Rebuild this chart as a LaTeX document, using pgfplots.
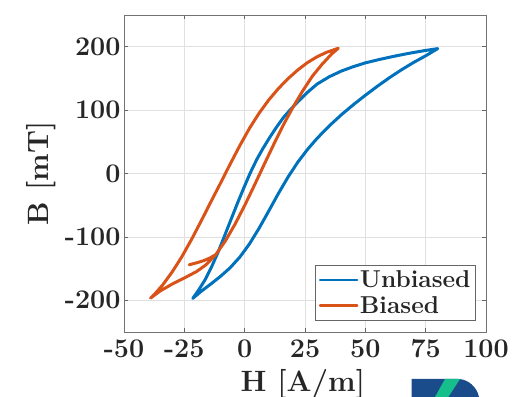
\documentclass[border=0pt]{standalone}
\usepackage{pgfplots}
\pgfplotsset{compat=1.18}
\definecolor{mblue}{rgb}{0,0.447,0.741}
\definecolor{morange}{rgb}{0.85,0.325,0.098}
\definecolor{logoblue}{RGB}{26,76,140}
\definecolor{logogreen}{RGB}{22,190,140}
\begin{document}
\begin{tikzpicture}
\useasboundingbox (0,0) rectangle (515bp,397bp);
\clip (0,0) rectangle (515bp,397bp);
\begin{axis}[
  at={(124bp,65bp)}, anchor=south west,
  scale only axis, width=362bp, height=317bp,
  xmin=-50, xmax=100, ymin=-250, ymax=250,
  xtick={-50,-25,0,25,50,75,100},
  xticklabels={-50,-25,0,25,50,75,100},
  ytick={-200,-100,0,100,200},
  yticklabels={-200,-100,0,100,200},
  tick align=inside, major tick length=4bp,
  tick style={black!60, line width=0.5bp},
  axis line style={black!55, line width=0.7bp},
  grid=major,
  major grid style={black!12, line width=0.5bp},
  ticklabel style={font=\fontsize{27}{30}\selectfont\bfseries, text=black!85},
  xticklabel style={yshift=-4bp},
  xlabel={H [A/m]}, ylabel={B [mT]},
  label style={font=\fontsize{29.5}{33}\selectfont\bfseries, text=black!85},
  xlabel style={at={(axis description cs:0.494,-0.189)}, anchor=base},
  ylabel style={at={(axis description cs:-0.229,0.5)}, anchor=center},
  legend style={at={(0.9715,0.0347)}, anchor=south east,
    font=\fontsize{24.5}{26}\selectfont\bfseries,
    draw=black!60, line width=0.6bp, inner xsep=3.5bp, inner ysep=4.5bp,
    row sep=4bp,
    nodes={inner sep=1.5bp, text=black!85}},
  legend cell align=left,
  legend image code/.code={\draw[#1, line width=2.6bp] (0bp,0bp) -- (37bp,0bp);},
  every axis plot/.append style={line width=3bp, line join=round, line cap=round},
]
\addplot[mblue] coordinates {
(-21.5,-197) (-18,-185.8) (-14,-174.2) (-10,-162.2) (-6,-148.6) (-2,-131.8)
(2,-111) (6,-86.2) (10,-59) (14,-31.4) (18,-5.4) (22,17.8) (26,37.8)
(30,55.4) (35,74.9) (40,92.4) (45,108.4) (50,123.4) (55,137.65) (60,151.15)
(65,163.65) (70,175.15) (75,185.65) (80,197)
(74,193.5) (68,189.5) (62,185) (56,180) (50,174.5) (45,168.5) (40,161.5)
(35,152.5) (30,141) (26,128) (22,113) (19,101) (16,88) (13,72) (10.4,57)
(7.5,39) (5,22) (2.2,0) (-0.5,-24) (-3,-47) (-5.5,-71) (-8.3,-98)
(-11,-124) (-13.8,-148) (-16.3,-167) (-18.6,-181) (-20.2,-190) (-21.5,-197)
};
\addlegendentry{Unbiased}
\addplot[morange] coordinates {
(-23,-144) (-20,-141) (-17,-137.5) (-14.5,-133.5) (-12,-128)
(-8,-106.4) (-4,-80) (0,-50.4) (4,-18.8) (8,13.6) (12,45.6) (16,76.4)
(20,104.4) (24,130) (28,153.2) (32,172) (36,188.4) (38.8,197.5)
(34,191.3) (30,184.1) (26,174.9) (22,163.3) (18,149.7) (14,134.1)
(10,116.1) (6,95.3) (2,71.3) (-2,44.1) (-6,14.9) (-10,-15.1) (-14,-44.7)
(-18,-74.7) (-22,-103.9) (-26,-131.1) (-30,-155.1) (-34,-175.9) (-37,-189)
(-39,-196.5)
(-35,-185.3) (-30,-174.3) (-25,-164.8) (-20,-154.8) (-16,-144) (-12,-128)
};
\addlegendentry{Biased}
\end{axis}
% logo fragment at bottom right
\fill[logoblue] (411.7bp,0) -- (411.7bp,18bp) -- (458bp,18bp)
  .. controls (468bp,18bp) and (477bp,10bp) .. (479bp,0) -- cycle;
\fill[logogreen] (445bp,18bp) -- (460bp,18bp) -- (448.3bp,0) -- (435bp,0) -- cycle;
\end{tikzpicture}
\end{document}
